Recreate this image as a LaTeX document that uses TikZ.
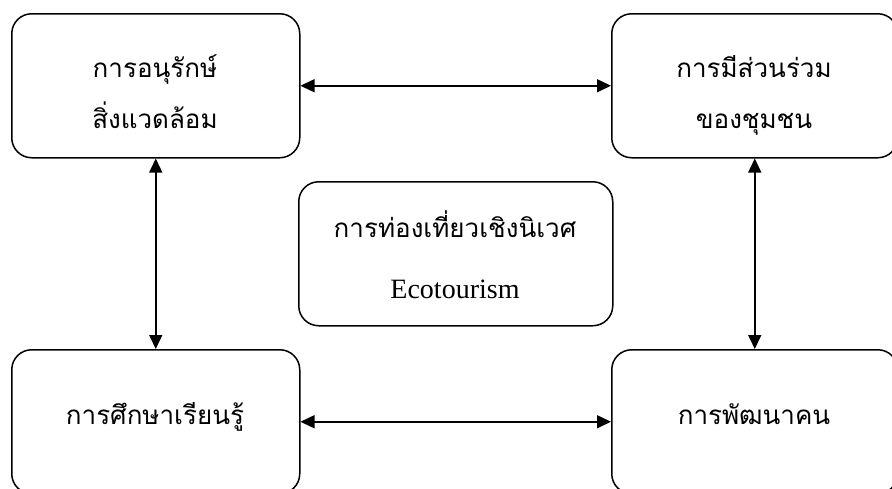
\documentclass[tikz,border=0pt]{standalone}
\usepackage{fontspec}
\setmainfont{Liberation Serif}
\newfontfamily\thaifont[Script=Thai]{Loma}
\usetikzlibrary{arrows.meta}
\tikzset{
  box/.style={draw, line width=1.5pt, rounded corners=20pt, inner sep=0pt},
  thaitext/.style={font=\thaifont\fontsize{26}{30}\selectfont, inner sep=0pt, anchor=base},
  engtext/.style={font=\fontsize{28}{33}\selectfont, inner sep=0pt, anchor=base},
  link/.style={line width=1.5pt, {Triangle[length=14pt,width=13pt]}-{Triangle[length=14pt,width=13pt]}}
}
\begin{document}
\begin{tikzpicture}[x=1pt,y=-1pt]
\useasboundingbox (0,0) rectangle (892,488);
\clip (0,0) rectangle (892,488);
\node[box, anchor=north west, minimum width=288pt, minimum height=144pt] (tl) at (11,13) {};
\node[box, anchor=north west, minimum width=286pt, minimum height=144pt] (tr) at (611,13) {};
\node[box, anchor=north west, minimum width=288pt, minimum height=144pt] (bl) at (11,349) {};
\node[box, anchor=north west, minimum width=286pt, minimum height=144pt] (br) at (611,349) {};
\node[box, anchor=north west, minimum width=314pt, minimum height=144pt] (c) at (298,181) {};
\node[thaitext] (tl1) at (155,77) {การอนุรักษ์};
\node[thaitext] (tl2) at (155,128) {สิ่งแวดล้อม};
\node[thaitext] (tr1) at (754,77) {การมีส่วนร่วม};
\node[thaitext] (tr2) at (754,128) {ของชุมชน};
\node[thaitext] (bl1) at (155,424) {การศึกษาเรียนรู้};
\node[thaitext] (br1) at (754,424) {การพัฒนาคน};
\node[thaitext] (c1) at (455,237) {การท่องเที่ยวเชิงนิเวศ};
\node[engtext] (c2) at (455,298) {Ecotourism};
\draw[link] (tl.east) -- (tr.west);
\draw[link] (bl.east) -- (br.west);
\draw[link] (tl.south) -- (bl.north);
\draw[link] (tr.south) -- (br.north);
\end{tikzpicture}
\end{document}
